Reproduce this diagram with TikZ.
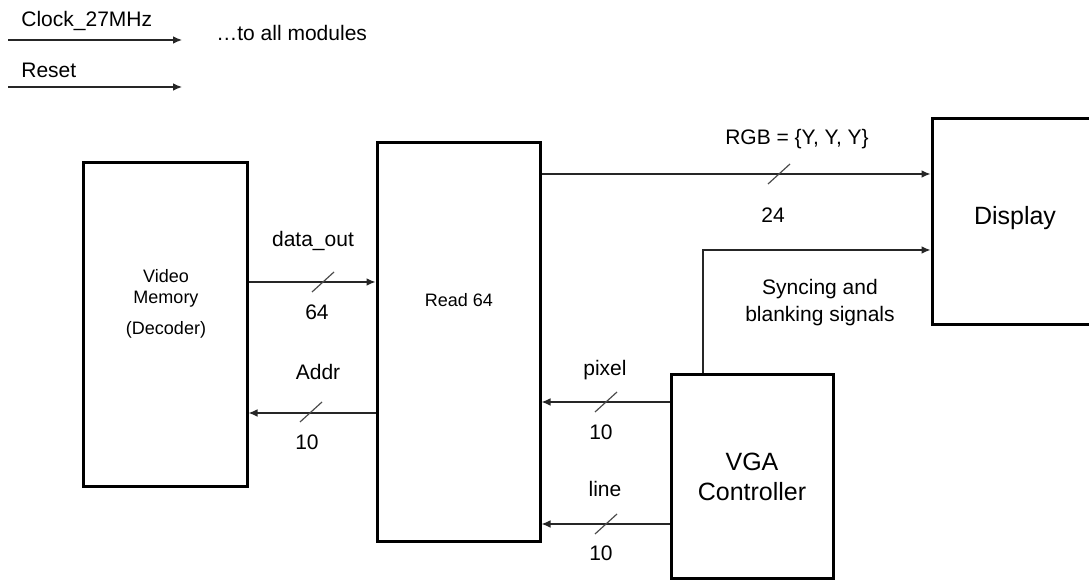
\documentclass[tikz,border=0pt]{standalone}
\usepackage{fontspec}
\setmainfont{Liberation Sans}
\usetikzlibrary{arrows.meta,calc}
\begin{document}
\begin{tikzpicture}[x=0.5pt,y=-0.5pt,
  blk/.style={draw=black,line width=1.5pt,rectangle,inner sep=0pt,fill=white},
  conn/.style={draw=black!85,line width=0.6pt,-{Latex[length=4.5pt,width=3.8pt]}},
  wire/.style={draw=black!85,line width=0.6pt},
  slash/.style={draw=black!70,line width=0.6pt},
  lbl/.style={font=\fontsize{10.5}{12.5}\selectfont,inner sep=0pt},
  small/.style={font=\fontsize{9}{10.5}\selectfont,inner sep=0pt},
  big/.style={font=\fontsize{12.5}{15}\selectfont,inner sep=0pt}]
\useasboundingbox (0,0) rectangle (1089,581);
% global signals
\node[lbl,anchor=west] (clk) at (21,21) {Clock\_27MHz};
\node[lbl,anchor=west] (rst) at (21,70) {Reset};
\node[lbl,anchor=west] (all) at (216,33) {…to all modules};
\coordinate (c0) at (8,40); \coordinate (c1) at (182,40);
\coordinate (r0) at (8,87); \coordinate (r1) at (182,87);
\draw[conn] (c0) -- (c1);
\draw[conn] (r0) -- (r1);
% blocks
\node[blk,minimum width=82pt,minimum height=162pt] (vm) at (165,325) {};
\node[small,align=center] (vmt) at (166,304) {Video\\Memory\\[5pt](Decoder)};
\node[blk,minimum width=81.5pt,minimum height=199.5pt] (rd) at (458.5,342.5) {};
\node[small] (rdt) at (459,300) {Read 64};
\node[blk,minimum width=81pt,minimum height=102pt,big,align=center] (vga) at (752,477) {VGA\\Controller};
\node[blk,minimum width=84pt,minimum height=103pt] (disp) at (1016,222) {};
\node[big] (dispt) at (1015,218) {Display};
% helper rows
\path (0,282) coordinate (ydata) (0,413) coordinate (yaddr) (0,174) coordinate (yrgb)
      (0,250) coordinate (ysync) (0,402) coordinate (ypix) (0,524) coordinate (yline)
      (703,0) coordinate (xsync);
% connectors
\draw[conn] (vm.east |- ydata) -- (rd.west |- ydata);
\draw[conn] (rd.west |- yaddr) -- (vm.east |- yaddr);
\draw[conn] (rd.east |- yrgb) -- (disp.west |- yrgb);
\draw[conn] (xsync |- vga.north) -- (xsync |- ysync) -- (disp.west |- ysync);
\draw[conn] (vga.west |- ypix) -- (rd.east |- ypix);
\draw[conn] (vga.west |- yline) -- (rd.east |- yline);
% bus slashes
\draw[slash] (323,282) +(-11,10) -- +(11,-10);
\draw[slash] (311,412) +(-11,10) -- +(11,-10);
\draw[slash] (779,174) +(-11,10) -- +(11,-10);
\draw[slash] (606,402) +(-11,10) -- +(11,-10);
\draw[slash] (606,524) +(-11,10) -- +(11,-10);
% labels
\node[lbl] (ldata) at (313,241) {data\_out};
\node[lbl] (l64) at (317,312) {64};
\node[lbl] (laddr) at (318,372) {Addr};
\node[lbl] (l10a) at (307,442) {10};
\node[lbl] (lrgb) at (797,139) {RGB = \{Y, Y, Y\}};
\node[lbl] (l24) at (773,215) {24};
\node[lbl] (lpix) at (605,370) {pixel};
\node[lbl] (l10b) at (601,432) {10};
\node[lbl] (lline) at (605,489) {line};
\node[lbl] (l10c) at (601,553) {10};
\node[lbl,align=center] (lsync) at (820,303) {Syncing and\\[1pt]blanking signals};
\end{tikzpicture}
\end{document}
